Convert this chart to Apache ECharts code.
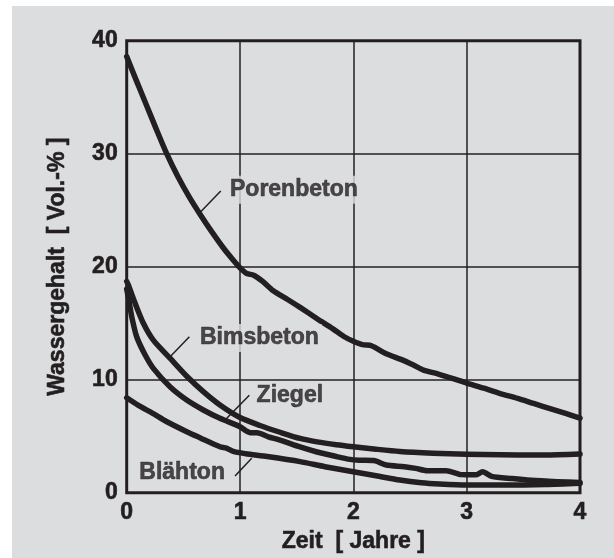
<!DOCTYPE html>
<html>
<head>
<meta charset="utf-8">
<script src="https://cdn.jsdelivr.net/npm/echarts@6/dist/echarts.min.js"></script>
<style>
html,body{margin:0;padding:0;background:#ffffff;width:614px;height:558px;overflow:hidden;}
#chart{position:absolute;left:12px;top:6px;width:602px;height:552px;background:#dcdddf;}
</style>
</head>
<body>
<div id="chart"></div>
<script>
const xTicks = [0, 1, 2, 3, 4];
const yTicks = [0, 10, 20, 30, 40];
const xTitle = 'Zeit  [ Jahre ]';
const yTitle = 'Wassergehalt  [ Vol.-% ]';

const porenbeton = [[0,38.6],[0.08,36.6],[0.17,34.4],[0.26,32.2],[0.353,30.0],[0.45,28.0],[0.55,26.2],[0.65,24.6],[0.75,23.1],[0.85,21.7],[0.93,20.7],[1.0,19.9],[1.06,19.4],[1.12,19.25],[1.2,18.7],[1.29,17.9],[1.42,17.1],[1.53,16.4],[1.68,15.4],[1.82,14.5],[1.92,13.8],[2.0,13.4],[2.08,13.1],[2.16,13.0],[2.29,12.3],[2.42,11.8],[2.53,11.3],[2.62,10.85],[2.75,10.5],[2.88,10.1],[3.0,9.7],[3.15,9.25],[3.29,8.8],[3.45,8.35],[3.59,7.9],[3.75,7.4],[3.88,7.0],[4.0,6.6]];
const bimsbeton = [[0,18.7],[0.014,18.4],[0.073,16.8],[0.147,15.0],[0.235,13.5],[0.382,11.9],[0.53,10.3],[0.676,8.94],[0.823,7.76],[1.0,6.65],[1.176,5.95],[1.353,5.35],[1.53,4.8],[1.68,4.5],[1.85,4.25],[2.0,4.07],[2.2,3.85],[2.41,3.65],[2.7,3.5],[3.0,3.4],[3.3,3.35],[3.6,3.33],[3.8,3.36],[4.0,3.42]];
const ziegel = [[0,18.0],[0.02,17.0],[0.044,15.6],[0.088,13.8],[0.162,12.2],[0.235,11.0],[0.382,9.38],[0.53,8.2],[0.676,7.32],[0.823,6.58],[1.0,5.84],[1.05,5.5],[1.1,5.3],[1.15,5.3],[1.25,4.95],[1.353,4.66],[1.53,4.05],[1.68,3.6],[1.85,3.2],[1.97,2.95],[2.05,2.88],[2.18,2.85],[2.29,2.45],[2.45,2.3],[2.55,2.15],[2.65,1.95],[2.82,1.95],[2.95,1.6],[3.08,1.58],[3.14,1.85],[3.22,1.45],[3.4,1.25],[3.57,1.1],[3.8,0.98],[4.0,0.9]];
const blaehton = [[0,8.4],[0.1,7.75],[0.235,7.0],[0.35,6.3],[0.53,5.4],[0.65,4.85],[0.823,4.07],[0.88,3.95],[0.94,3.65],[1.05,3.45],[1.24,3.2],[1.53,2.75],[1.75,2.3],[2.0,1.85],[2.2,1.5],[2.41,1.12],[2.6,0.88],[2.76,0.77],[3.0,0.68],[3.3,0.68],[3.7,0.72],[4.0,0.83]];

const labelNames = ['Porenbeton', 'Bimsbeton', 'Ziegel', 'Blähton'];
const labelX = [0.885, 0.62, 1.12, 0.085];
const labelY = [26.8, 13.7, 8.6, 1.8];
const leaderLines = [
  [[0.647,24.8],[0.83,26.7]],
  [[0.383,12.04],[0.553,13.8]],
  [[0.868,6.43],[1.082,8.62]],
  [[0.956,1.48],[1.103,3.04]]
];

const ink = '#231f20';
const bg = '#dcdddf';
const font = 'Liberation Sans, Arial, Helvetica, sans-serif';

const curves = [
  ['Porenbeton', porenbeton],
  ['Bimsbeton', bimsbeton],
  ['Ziegel', ziegel],
  ['Blähton', blaehton]
];

const textBase = {color: ink, fontFamily: font, fontWeight: 'bold', fontSize: 23,
  textBorderColor: ink, textBorderWidth: 0.6};

const chart = echarts.init(document.getElementById('chart'), null, {renderer: 'canvas'});
const series = curves.map(([name, data]) => ({
  name: name,
  type: 'line',
  data: data,
  showSymbol: false,
  symbol: 'none',
  smooth: 0.25,
  lineStyle: {color: ink, width: 5.5, cap: 'round', join: 'round'},
  z: 3,
  animation: false
}));
series.push({
  type: 'lines',
  coordinateSystem: 'cartesian2d',
  data: leaderLines.map(c => ({coords: c})),
  lineStyle: {color: ink, width: 1.5, opacity: 1},
  z: 4,
  animation: false
});
series.push({
  type: 'scatter',
  symbolSize: 0,
  data: labelNames.map((n, i) => ({name: n, value: [labelX[i], labelY[i]]})),
  label: Object.assign({
    show: true,
    position: 'right',
    distance: 0,
    formatter: p => p.name,
    backgroundColor: bg,
    padding: [3, 3, 2, 3]
  }, textBase),
  z: 5,
  animation: false
});

chart.setOption({
  backgroundColor: bg,
  animation: false,
  grid: {
    left: 114.7, top: 34.7, width: 453.3, height: 452,
    show: true, borderColor: ink, borderWidth: 3, backgroundColor: 'transparent'
  },
  xAxis: {
    type: 'value', min: xTicks[0], max: xTicks[xTicks.length - 1], interval: 1,
    name: xTitle, nameLocation: 'middle', nameGap: 37,
    nameTextStyle: Object.assign({}, textBase),
    axisLine: {show: false},
    axisTick: {show: false},
    axisLabel: Object.assign({margin: 8, formatter: v => xTicks.includes(v) ? String(v) : ''}, textBase),
    splitLine: {show: true, lineStyle: {color: ink, width: 1.5}}
  },
  yAxis: {
    type: 'value', min: yTicks[0], max: yTicks[yTicks.length - 1], interval: 10,
    name: yTitle, nameLocation: 'middle', nameGap: 58,
    nameTextStyle: Object.assign({}, textBase),
    axisLine: {show: false},
    axisTick: {show: false},
    axisLabel: Object.assign({margin: 9, formatter: v => yTicks.includes(v) ? String(v) : ''}, textBase),
    splitLine: {show: true, lineStyle: {color: ink, width: 1.5}}
  },
  series: series
});
</script>
</body>
</html>
